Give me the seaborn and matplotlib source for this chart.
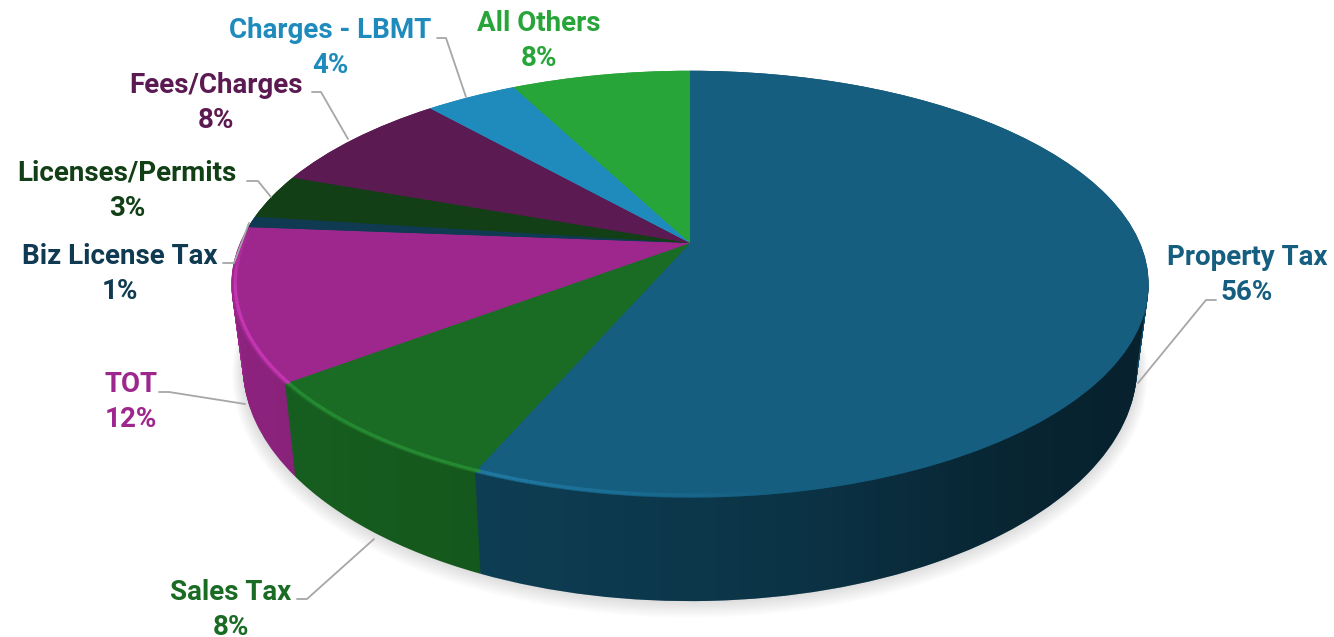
import numpy as np
import matplotlib
matplotlib.use("Agg")
import matplotlib.pyplot as plt
import seaborn as sns
from matplotlib.collections import LineCollection
from matplotlib.colors import to_rgb
from matplotlib.patches import PathPatch
from matplotlib.path import Path
from matplotlib.transforms import Transform

# chart values (labels print them rounded)
categories = ["Property Tax", "Sales Tax", "TOT", "Biz License Tax",
              "Licenses/Permits", "Fees/Charges", "Charges - LBMT", "All Others"]
shares = [56.45, 8.2, 11.6, 0.85, 3.4, 8.0, 3.9, 7.6]
slice_colors = ["#155e80", "#1a6c24", "#9d278d", "#0f3a52",
                "#123f16", "#5c1a52", "#1f8bbd", "#28a539"]
side_colors = ["#114b66", "#1a6c24", "#9d278d", "#0f3a52",
               "#123f16", "#5c1a52", "#1f8bbd", "#28a539"]

# label centres and leader lines, in picture pixels
label_xy = [(1247, 275), (231, 610), (131, 402), (120, 274),
            (127, 191), (216, 103), (330, 48), (539, 41)]
leaders = [
    [(1138, 383), (1206, 300), (1216, 300)],
    [(374, 539), (307, 599), (297, 599)],
    [(245, 404), (169, 392), (159, 392)],
    [(249, 223), (234, 263), (223, 263)],
    [(271, 197), (258, 181), (247, 181)],
    [(348, 139), (321, 92), (312, 92)],
    [(466, 97), (446, 38), (437, 38)],
]

# the tilted disc: pie coordinates to picture pixels
APEX_X, APEX_Y = 690, 243
SCALE_X, SCALE_Y, TILT = 450, 205.5, 0.193


class Tilted(Transform):
    input_dims = 2
    output_dims = 2
    is_separable = False
    has_inverse = False

    def __init__(self, level=0.0, grow=1.0):
        super().__init__()
        self.level = level  # 0 is the top face, 1 the bottom face
        self.grow = grow

    def transform_non_affine(self, values):
        x, y = np.asarray(values).T
        w = 1 + TILT * y
        px = SCALE_X * x / w
        py = -SCALE_Y * y / w
        px = px * (1 - 0.025 * self.level) * self.grow
        py = py * (1 + 0.10 * self.level) * self.grow + 78 * self.level
        return np.column_stack([APEX_X + px, APEX_Y + py])


sns.set_theme(style="white")
plt.rcParams["font.family"] = ["Roboto", "DejaVu Sans"]

fig = plt.figure(figsize=(13.34, 6.37), dpi=100)
ax = fig.add_axes([0, 0, 1, 1])


def draw_pie(transform, colors, zorder, alpha=None, values=shares):
    wedges, _ = ax.pie(values, colors=colors, startangle=90, counterclock=False,
                       wedgeprops={"linewidth": 0, "zorder": zorder, "alpha": alpha})
    for w in wedges:
        w.set_transform(transform + ax.transData)
    return wedges


# soft shadow below the disc
for k in range(12):
    draw_pie(Tilted(1.0 + k * 0.008, 1.0 + k * 0.0024), ["#000000"], 1, alpha=0.011, values=[1])

# side wall as a stack of pies
for d in np.linspace(1, 0, 70):
    draw_pie(Tilted(d), side_colors, 2)

# darkening of the side wall, left to right
phi = np.radians(np.linspace(180 + np.degrees(np.arcsin(TILT)), 360 - np.degrees(np.arcsin(TILT)), 200))
circle = np.column_stack([np.cos(phi), np.sin(phi)])
wall = np.vstack([Tilted(1.0).transform(circle), Tilted(0.0).transform(circle)[::-1]])
wall_patch = PathPatch(Path(wall), facecolor="none", edgecolor="none", transform=ax.transData)
ax.add_patch(wall_patch)
columns = np.arange(200, 1170)
dark = np.interp(columns, [231, 400, 480, 800, 1000, 1150], [0.1, 0.17, 0.18, 0.32, 0.5, 0.56])
shade = np.zeros((1, columns.size, 4))
shade[..., 3] = dark
img = ax.imshow(shade, extent=(200, 1170, 640, 0), aspect="auto", zorder=3, interpolation="bilinear")
img.set_clip_path(wall_patch)

# top face
top = draw_pie(Tilted(), slice_colors, 4)

# brighter bevel along the front edge
segs, seg_colors = [], []
for wedge, color in zip(top, slice_colors):
    rgb = np.array(to_rgb(color))
    angles = np.radians(np.arange(wedge.theta1, wedge.theta2 + 1.0, 1.0))
    ring = np.column_stack([np.cos(angles), np.sin(angles)])
    edge = Tilted().transform(ring * 0.992)
    for i in range(len(edge) - 1):
        x0, y0 = ring[i]
        fade = np.clip((0.15 - x0) / 0.5, 0, 1) * np.clip((0.1 - y0) / 0.3, 0, 1)
        if fade > 0:
            segs.append(edge[i:i + 2])
            seg_colors.append((*np.clip(rgb * 1.25 + 0.03, 0, 1), 0.85 * fade))
ax.add_collection(LineCollection(segs, colors=seg_colors, linewidths=2.4, zorder=5))

# labels and leader lines
for name, share, color, (lx, ly) in zip(categories, shares, slice_colors, label_xy):
    ax.text(lx, ly, f"{name}\n{share:.0f}%", color=color, ha="center", va="center",
            fontsize=20, fontweight="bold", linespacing=1.42, zorder=7)
for line in leaders:
    xs, ys = zip(*line)
    ax.plot(xs, ys, color="#a6a6a6", lw=1.3, zorder=6, solid_capstyle="round")

ax.set_aspect("auto")
ax.set_xlim(0, 1334)
ax.set_ylim(637, 0)
ax.axis("off")
fig.savefig("out.png", dpi=100, facecolor="white")
